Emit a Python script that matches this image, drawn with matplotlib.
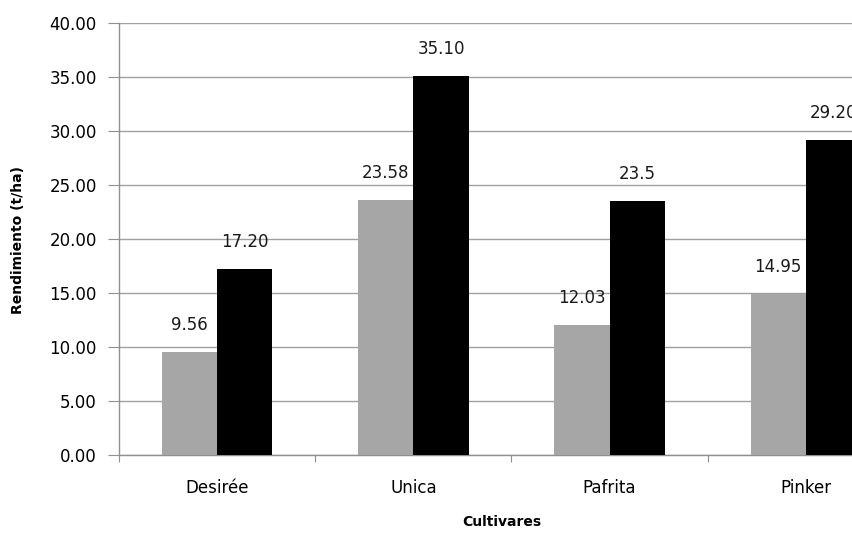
import numpy as np
import matplotlib
matplotlib.use('Agg')
import matplotlib.pyplot as plt

# Rendimiento por cultivar, dos tratamientos
cultivares = ['Desirée', 'Unica', 'Pafrita', 'Pinker']
rend_gris = [9.56, 23.58, 12.03, 14.95]
rend_negro = [17.20, 35.10, 23.5, 29.20]
etiq_gris = ['9.56', '23.58', '12.03', '14.95']
etiq_negro = ['17.20', '35.10', '23.5', '29.20']
y_ticks = [0, 5, 10, 15, 20, 25, 30, 35, 40]

plt.rcParams['font.family'] = 'DejaVu Sans'

fig = plt.figure(figsize=(8.52, 5.33), dpi=100)
# el area de trazado se sale por la derecha, como en la hoja original
ax = fig.add_axes([0.1397, 0.1463, 0.9213, 0.8105])

x = np.arange(len(cultivares))
w = 0.282
barras_g = ax.bar(x - w / 2, rend_gris, w, color='#a6a6a6', zorder=3)
barras_n = ax.bar(x + w / 2, rend_negro, w, color='black', zorder=3)

for barras, etiquetas in [(barras_g, etiq_gris), (barras_n, etiq_negro)]:
    for b, t in zip(barras, etiquetas):
        ax.annotate(t, (b.get_x() + b.get_width() / 2, b.get_height()),
                    xytext=(0, 13), textcoords='offset points',
                    ha='center', va='bottom', fontsize=12, color='#1a1a1a',
                    annotation_clip=False)

ax.set_xlim(-0.5, len(cultivares) - 0.5)
ax.set_ylim(0, 40)
ax.set_yticks(y_ticks)
ax.set_yticklabels([f'{v:.2f}' for v in y_ticks])
ax.yaxis.grid(True, color='#a0a0a0', linewidth=1.0, zorder=0)

# ticks del eje x en los limites entre categorias
ax.set_xticks(np.arange(-0.5, len(cultivares) + 0.5, 1.0))
ax.set_xticklabels([])
ax.set_xticks(x, minor=True)
ax.set_xticklabels(cultivares, minor=True)
ax.tick_params(axis='x', which='minor', length=0, pad=17, labelsize=12)
ax.tick_params(axis='x', which='major', length=5, color='#909090')
ax.tick_params(axis='y', length=8, pad=8, labelsize=12, color='#909090')

for s in ['top', 'right']:
    ax.spines[s].set_visible(False)
for s in ['left', 'bottom']:
    ax.spines[s].set_color('#909090')
    ax.spines[s].set_linewidth(1.0)

fig.text(502 / 852, 1 - 522 / 533, 'Cultivares', ha='center', va='center',
         fontsize=10, fontweight='bold')
fig.text(18 / 852, 1 - 240 / 533, 'Rendimiento (t/ha)', ha='center', va='center',
         rotation=90, fontsize=10, fontweight='bold')

fig.savefig('out.png', dpi=100)
